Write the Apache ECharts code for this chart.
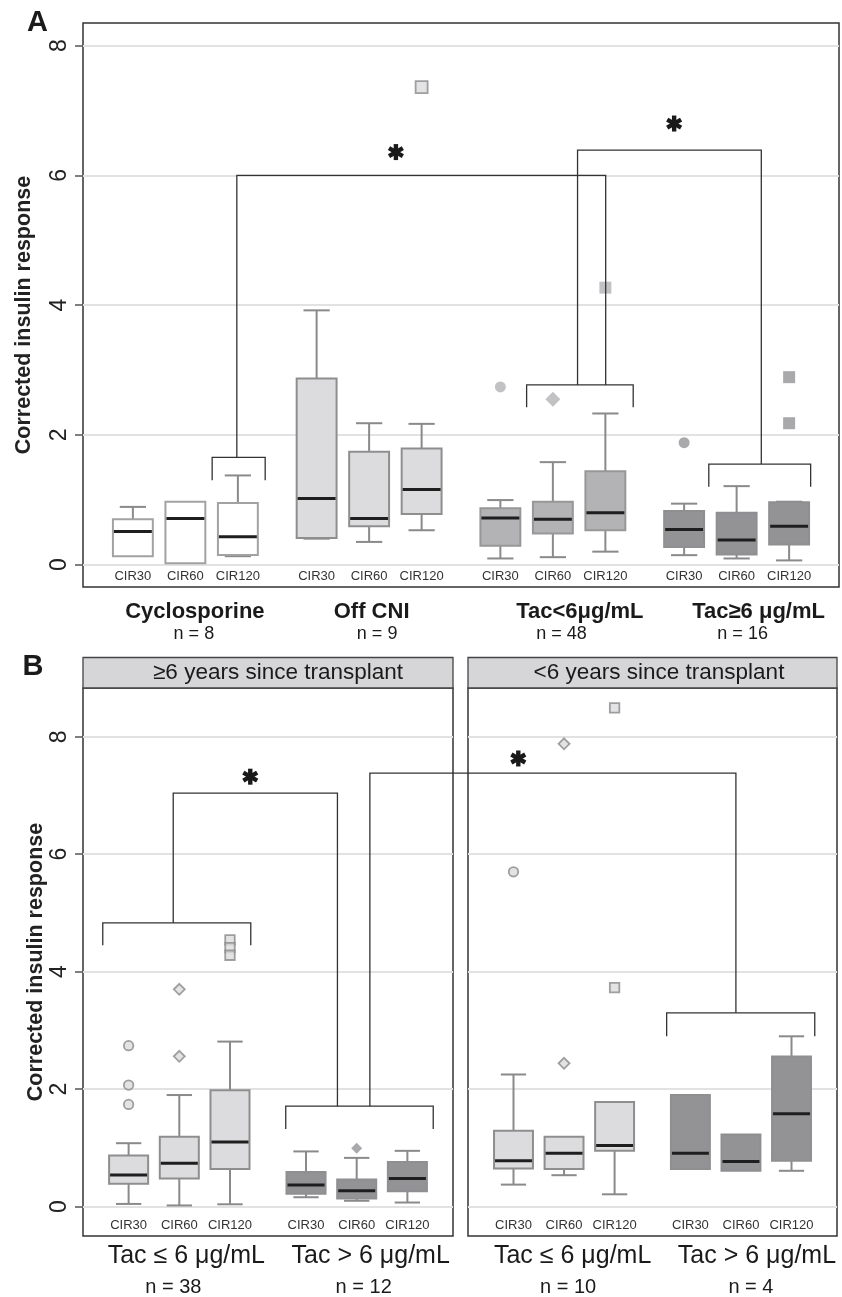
<!DOCTYPE html>
<html>
<head>
<meta charset="utf-8">
<script src="https://cdn.jsdelivr.net/npm/echarts@6/dist/echarts.min.js"></script>
<style>
html,body{margin:0;padding:0;background:#fff;}
#chart{width:842px;height:1297px;}
</style>
</head>
<body>
<div id="chart"></div>
<script>
// ---------------- DATA ----------------
const timepoints = ['CIR30', 'CIR60', 'CIR120'];
const yTicks = [0, 2, 4, 6, 8];

// Panel A
const groupsA = ['Cyclosporine', 'Off CNI', 'Tac<6μg/mL', 'Tac≥6 μg/mL'];
const countsA = ['n = 8', 'n = 9', 'n = 48', 'n = 16'];
// [low whisker, Q1, median, Q3, high whisker] for CIR30, CIR60, CIR120
const cyclosporineA = [[0.13, 0.13, 0.51, 0.70, 0.89], [0.02, 0.02, 0.71, 0.97, 0.97], [0.13, 0.15, 0.43, 0.95, 1.375]];
const offCniA       = [[0.40, 0.41, 1.02, 2.87, 3.92], [0.35, 0.59, 0.71, 1.74, 2.18], [0.53, 0.78, 1.16, 1.79, 2.17]];
const tacLowA       = [[0.095, 0.29, 0.72, 0.87, 0.995], [0.115, 0.48, 0.70, 0.97, 1.58], [0.20, 0.53, 0.80, 1.44, 2.33]];
const tacHighA      = [[0.146, 0.27, 0.54, 0.825, 0.94], [0.095, 0.157, 0.38, 0.80, 1.21], [0.065, 0.31, 0.59, 0.96, 0.97]];
// outliers: [group, timepoint, value]
const outliersA = [[1, 2, 7.36], [2, 0, 2.74], [2, 1, 2.55], [2, 2, 4.27], [3, 0, 1.88], [3, 2, 2.89], [3, 2, 2.18]];

// Panel B
const facetsB = ['≥6 years since transplant', '<6 years since transplant'];
const groupsB = ['Tac ≤ 6 μg/mL', 'Tac > 6 μg/mL'];
const countsLong = ['n = 38', 'n = 12'];
const countsShort = ['n = 10', 'n = 4'];
const longTacLow   = [[0.046, 0.39, 0.54, 0.87, 1.08], [0.02, 0.48, 0.74, 1.19, 1.90], [0.04, 0.64, 1.10, 1.98, 2.81]];
const longTacHigh  = [[0.16, 0.22, 0.37, 0.59, 0.94], [0.10, 0.14, 0.27, 0.46, 0.83], [0.07, 0.26, 0.48, 0.76, 0.95]];
const shortTacLow  = [[0.375, 0.65, 0.78, 1.29, 2.25], [0.535, 0.64, 0.91, 1.19, 1.19], [0.21, 0.95, 1.04, 1.78, 1.78]];
const shortTacHigh = [[0.64, 0.64, 0.91, 1.90, 1.90], [0.61, 0.61, 0.77, 1.23, 1.23], [0.61, 0.78, 1.58, 2.555, 2.90]];
const outliersLong  = [[0, 0, 2.74], [0, 0, 2.07], [0, 0, 1.74], [0, 1, 3.70], [0, 1, 2.56], [0, 2, 4.54], [0, 2, 4.41], [0, 2, 4.28], [1, 1, 0.995]];
const outliersShort = [[0, 0, 5.70], [0, 1, 7.88], [0, 1, 2.44], [0, 2, 8.49], [0, 2, 3.73]];

// significance annotations (axis units)
const bracketsA = [
  [[1.51, 1.30], [1.51, 1.654], [2.52, 1.654], [2.52, 1.30]],
  [[7.50, 2.425], [7.50, 2.77], [9.53, 2.77], [9.53, 2.425]],
  [[10.97, 1.20], [10.97, 1.55], [12.91, 1.55], [12.91, 1.20]],
  [[1.98, 1.654], [1.98, 6.0], [9.006, 6.0], [9.006, 2.77]],
  [[8.47, 2.77], [8.47, 6.39], [11.97, 6.39], [11.97, 1.55]]
];
const starsA = [[5.01, 6.36], [10.31, 6.80]];
const bracketsLong = [
  [[-0.51, 4.45], [-0.51, 4.83], [2.41, 4.83], [2.41, 4.45]],
  [[3.10, 1.32], [3.10, 1.71], [6.01, 1.71], [6.01, 1.32]],
  [[0.88, 4.83], [0.88, 7.04], [4.12, 7.04], [4.12, 1.71]]
];
const bracketsShort = [
  [[3.03, 2.90], [3.03, 3.30], [5.96, 3.30], [5.96, 2.90]]
];
// crossing bracket: start in long facet, end in short facet
const crossLong = [[4.76, 1.71], [4.76, 7.38]];
const crossShort = [[4.40, 7.38], [4.40, 3.30]];
const starsLong = [[2.40, 7.32]];
const starsShort = [[0.095, 7.63]];

// ---------------- LAYOUT / STYLE ----------------
const FONT = '"Liberation Sans", Arial, Helvetica, sans-serif';
const GROUP_STEP = 3.5;
const pos = (g, k) => g * GROUP_STEP + k;
const STYLES = [
  { fill: '#ffffff', stroke: '#a2a2a2', outBorder: '#a2a2a2', outBw: 1.5 },  // 0 white
  { fill: '#dcdcde', stroke: '#8e8e8e', outBorder: '#8a8a8a', outBw: 1.8 },  // 1 light
  { fill: '#b3b3b6', stroke: '#979797', outBorder: '#b3b3b6', outBw: 0 },    // 2 mid
  { fill: '#939396', stroke: '#8f8f92', outBorder: '#939396', outBw: 0 }     // 3 dark
];
const SYMBOLS = ['circle', 'diamond', 'rect'];

function boxData(groupArrays, styleIdx) {
  const out = [];
  groupArrays.forEach((arr, g) => arr.forEach((s, k) => out.push([pos(g, k), s[0], s[1], s[2], s[3], s[4], styleIdx[g]])));
  return out;
}
function outlierData(list, styleIdx, sizes) {
  return list.map(([g, k, v]) => {
    const st = STYLES[styleIdx[g]];
    return {
      value: [pos(g, k), v],
      symbol: SYMBOLS[k],
      symbolSize: sizes[k],
      itemStyle: { color: st.fill, borderColor: st.outBorder, borderWidth: st.outBw }
    };
  });
}
function renderBox(boxW, capW) {
  return function (params, api) {
    const x = api.value(0);
    const lo = api.value(1), q1 = api.value(2), med = api.value(3), q3 = api.value(4), hi = api.value(5);
    const st = STYLES[api.value(6)];
    const c = v => api.coord([x, v]);
    const half = api.size([boxW, 0])[0] / 2;
    const capHalf = api.size([capW, 0])[0] / 2;
    const cx = c(med)[0];
    const yLo = c(lo)[1], yQ1 = c(q1)[1], yMed = c(med)[1], yQ3 = c(q3)[1], yHi = c(hi)[1];
    const wStyle = { stroke: '#8a8a8a', lineWidth: 2 };
    const children = [];
    if (hi > q3) {
      children.push({ type: 'line', shape: { x1: cx, y1: yHi, x2: cx, y2: yQ3 }, style: wStyle });
      children.push({ type: 'line', shape: { x1: cx - capHalf, y1: yHi, x2: cx + capHalf, y2: yHi }, style: wStyle });
    }
    if (lo < q1) {
      children.push({ type: 'line', shape: { x1: cx, y1: yQ1, x2: cx, y2: yLo }, style: wStyle });
      children.push({ type: 'line', shape: { x1: cx - capHalf, y1: yLo, x2: cx + capHalf, y2: yLo }, style: wStyle });
    }
    children.push({ type: 'rect', shape: { x: cx - half, y: yQ3, width: half * 2, height: yQ1 - yQ3 },
      style: { fill: st.fill, stroke: st.stroke, lineWidth: 2 } });
    children.push({ type: 'line', shape: { x1: cx - half + 1, y1: yMed, x2: cx + half - 1, y2: yMed },
      style: { stroke: '#1e1e1e', lineWidth: 3 } });
    return { type: 'group', children };
  };
}

function xAxis(gridIndex, min, max, nGroups) {
  const positions = [];
  for (let g = 0; g < nGroups; g++) for (let k = 0; k < timepoints.length; k++) positions.push(pos(g, k));
  return {
    type: 'value', gridIndex, min, max,
    axisLine: { show: false, onZero: false }, axisTick: { show: false }, splitLine: { show: false },
    axisLabel: {
      show: true, inside: true, customValues: positions, margin: 4,
      fontSize: 13, color: '#333', fontFamily: FONT,
      formatter: v => timepoints[Math.round(v % GROUP_STEP)]
    }
  };
}
function yAxis(gridIndex, min, max, showLabels, nameGap, namePad) {
  return {
    type: 'value', gridIndex, min, max,
    axisLine: { show: false, onZero: false },
    axisTick: { show: showLabels, customValues: yTicks, length: 8, lineStyle: { color: '#555', width: 1.5 } },
    axisLabel: { show: showLabels, customValues: yTicks, rotate: 90, fontSize: 23, color: '#222', margin: 12, fontFamily: FONT },
    splitLine: { show: true, lineStyle: { color: '#e2e2e2', width: 2 } },
    name: showLabels ? 'Corrected insulin response' : '',
    nameLocation: 'middle', nameGap: nameGap, nameMoveOverlap: false,
    nameTextStyle: { fontSize: 21.5, fontWeight: 'bold', color: '#222', fontFamily: FONT, padding: namePad }
  };
}
const gridBase = { show: true, borderColor: '#333', borderWidth: 1.5, backgroundColor: 'transparent', containLabel: false, outerBoundsMode: 'none' };

const option = {
  animation: false,
  backgroundColor: '#fff',
  textStyle: { fontFamily: FONT },
  grid: [
    Object.assign({ left: 83, top: 23, width: 756, height: 564 }, gridBase),
    Object.assign({ left: 83, top: 688, width: 370, height: 548 }, gridBase),
    Object.assign({ left: 468, top: 688, width: 369, height: 548 }, gridBase)
  ],
  xAxis: [
    xAxis(0, -0.95, 13.45, 4),
    xAxis(1, -0.9, 6.4, 2),
    xAxis(2, -0.9, 6.4, 2)
  ],
  yAxis: [
    yAxis(0, -0.345, 8.35, true, 48, [0, 20, 0, 0]),
    yAxis(1, -0.5, 8.83, true, 36, [0, 0, 0, 0]),
    yAxis(2, -0.5, 8.83, false, 36, [0, 0, 0, 0])
  ],
  series: [
    { type: 'custom', xAxisIndex: 0, yAxisIndex: 0, renderItem: renderBox(0.76, 0.5),
      encode: { x: 0, y: [1, 2, 3, 4, 5] }, data: boxData([cyclosporineA, offCniA, tacLowA, tacHighA], [0, 1, 2, 3]), z: 2 },
    { type: 'scatter', xAxisIndex: 0, yAxisIndex: 0, data: outlierData(outliersA, [0, 1, 2, 3], [11, 15, 12]), z: 3 },
    { type: 'custom', xAxisIndex: 1, yAxisIndex: 1, renderItem: renderBox(0.77, 0.5),
      encode: { x: 0, y: [1, 2, 3, 4, 5] }, data: boxData([longTacLow, longTacHigh], [1, 3]), z: 2 },
    { type: 'scatter', xAxisIndex: 1, yAxisIndex: 1, data: outlierData(outliersLong, [1, 3], [9.5, 11, 9.5]), z: 3 },
    { type: 'custom', xAxisIndex: 2, yAxisIndex: 2, renderItem: renderBox(0.77, 0.5),
      encode: { x: 0, y: [1, 2, 3, 4, 5] }, data: boxData([shortTacLow, shortTacHigh], [1, 3]), z: 2 },
    { type: 'scatter', xAxisIndex: 2, yAxisIndex: 2, data: outlierData(outliersShort, [1, 3], [9.5, 11, 9.5]), z: 3 }
  ]
};

const chart = echarts.init(document.getElementById('chart'), null, { renderer: 'canvas' });
chart.setOption(option);

// ---------------- ANNOTATIONS ----------------
const px = (gi, p) => chart.convertToPixel({ gridIndex: gi }, p);
const G = [];
const LINE = { stroke: '#333', lineWidth: 1.3, fill: 'none' };
function addBrackets(gi, list) {
  list.forEach(pts => G.push({ type: 'polyline', silent: true, z: 10, shape: { points: pts.map(p => px(gi, p)) }, style: LINE }));
}
function addStar(gi, p) {
  const [cx, cy] = px(gi, p);
  const r = 8;
  [90, 30, -30].forEach(a => {
    const dx = r * Math.cos(a * Math.PI / 180), dy = r * Math.sin(a * Math.PI / 180);
    G.push({ type: 'line', silent: true, z: 10, shape: { x1: cx - dx, y1: cy - dy, x2: cx + dx, y2: cy + dy },
      style: { stroke: '#1a1a1a', lineWidth: 4.4 } });
  });
}
function addText(x, y, text, size, weight, align) {
  G.push({ type: 'text', silent: true, z: 10, x, y,
    style: { text, fontSize: size, fontWeight: weight || 'normal', fontFamily: FONT, fill: '#1a1a1a',
      align: align || 'center', verticalAlign: 'middle' } });
}

addBrackets(0, bracketsA);
starsA.forEach(s => addStar(0, s));
addBrackets(1, bracketsLong);
addBrackets(2, bracketsShort);
starsLong.forEach(s => addStar(1, s));
starsShort.forEach(s => addStar(2, s));
G.push({ type: 'polyline', silent: true, z: 10,
  shape: { points: crossLong.map(p => px(1, p)).concat(crossShort.map(p => px(2, p))) }, style: LINE });

// group labels, panel A
const nameShiftA = [9.5, 2.5, 27, 22], countShiftA = [8.5, 8, 8.7, 6];
groupsA.forEach((g, i) => {
  const cx = px(0, [pos(i, 1), 0])[0];
  addText(cx + nameShiftA[i], 612, g, 22, 'bold');
  addText(cx + countShiftA[i], 634, countsA[i], 18);
});
// group labels, panel B
const nameShiftB = [[7, 14], [8.6, 16]], countShiftB = [[-6, 7], [4, 10]];
[countsLong, countsShort].forEach((counts, f) => {
  groupsB.forEach((g, i) => {
    const cx = px(f + 1, [pos(i, 1), 0])[0];
    addText(cx + nameShiftB[f][i], 1256, g, 25);
    addText(cx + countShiftB[f][i], 1287, counts[i], 20);
  });
});
// facet headers
[[83, 370], [468, 369]].forEach(([x, w], f) => {
  G.push({ type: 'rect', silent: true, z: 9, shape: { x: x, y: 657.5, width: w, height: 30.5 },
    style: { fill: '#d6d6d8', stroke: '#444', lineWidth: 1.3 } });
  addText(x + w / 2 + (f === 0 ? 10 : 6.5), 673, facetsB[f], 22.5);
});
// panel letters
addText(37.5, 22.5, 'A', 29, 'bold');
addText(33, 667, 'B', 29, 'bold');

chart.setOption({ graphic: { elements: G } });
</script>
</body>
</html>
